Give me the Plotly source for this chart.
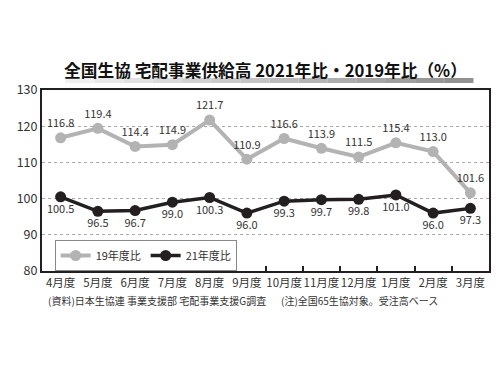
import plotly.graph_objects as go

months = ["4月度", "5月度", "6月度", "7月度", "8月度", "9月度", "10月度", "11月度", "12月度", "1月度", "2月度", "3月度"]
vs2019 = [116.8, 119.4, 114.4, 114.9, 121.7, 110.9, 116.6, 113.9, 111.5, 115.4, 113.0, 101.6]
vs2021 = [100.5, 96.5, 96.7, 99.0, 100.3, 96.0, 99.3, 99.7, 99.8, 101.0, 96.0, 97.3]
yticks = [80, 90, 100, 110, 120, 130]

FONT = "Noto Sans CJK JP, Noto Sans, sans-serif"
OFF = 8  # page body margin offset
W, H = 500 - OFF, 375 - OFF
# target plot area in page pixels: x 31..491, y 90..271
L, T = 31 - OFF, 90 - OFF
R = W - (491 - OFF)
B = H - (271 - OFF)
PW, PH = W - L - R, H - T - B


def px_x(x):
    return (x - OFF - L) / PW


def px_y(y):
    return (H - B - (y - OFF)) / PH


fig = go.Figure()
fig.add_trace(go.Scatter(
    x=months, y=vs2019, name="19年度比", mode="lines+markers+text",
    line=dict(color="#b3b3b3", width=4), marker=dict(color="#b3b3b3", size=11),
    text=[f"{v:.1f}" for v in vs2019], textposition="top center",
    textfont=dict(size=11, color="#333333", family=FONT),
))
fig.add_trace(go.Scatter(
    x=months, y=vs2021, name="21年度比", mode="lines+markers+text",
    line=dict(color="#231f20", width=3.5), marker=dict(color="#231f20", size=11),
    text=[f"{v:.1f}" for v in vs2021], textposition="bottom center",
    textfont=dict(size=11, color="#333333", family=FONT),
))

# title underline shadow (gradient-like)
x0, x1 = 55, 475
n = 14
for i in range(n):
    a = x0 + (x1 - x0) * i / n
    b = x0 + (x1 - x0) * (i + 1) / n
    g = int(240 - 95 * i / (n - 1))
    fig.add_shape(type="rect", xref="paper", yref="paper",
                  x0=px_x(a), x1=px_x(b), y0=px_y(83), y1=px_y(78),
                  fillcolor=f"rgb({g},{g},{g})", line=dict(width=0), layer="below")

fig.update_layout(
    width=W, height=H, margin=dict(l=L, r=R, t=T, b=B),
    paper_bgcolor="white", plot_bgcolor="white",
    font=dict(family=FONT, color="#333333", size=12),
    showlegend=True,
    legend=dict(orientation="h", x=px_x(44), y=px_y(240),
                xanchor="left", yanchor="top", bgcolor="white",
                bordercolor="#888888", borderwidth=1,
                font=dict(size=11, color="#333333", family=FONT),
                itemwidth=30, entrywidth=45, entrywidthmode="pixels", tracegroupgap=0),
    title=dict(text="<b>全国生協 宅配事業供給高 2021年比・2019年比（%）</b>",
               x=0.5, xref="paper", xanchor="center", y=1 - (71 - OFF) / H, yanchor="middle",
               font=dict(size=16.7, color="#111111", family=FONT)),
    xaxis=dict(type="category", range=[-0.5, 11.5], showline=True, linecolor="#231f20",
               linewidth=2, mirror=True, ticks="inside", tickson="boundaries",
               ticklen=5, tickwidth=2, tickcolor="#231f20", showgrid=False,
               tickangle=0, tickfont=dict(size=11.5, color="#333333")),
    yaxis=dict(range=[80, 130], tickvals=yticks, showline=True, linecolor="#231f20",
               linewidth=2, mirror=True, ticks="", showgrid=True, gridcolor="#aaaaaa",
               griddash="dot", gridwidth=1, zeroline=False,
               tickfont=dict(size=12.5, color="#333333")),
)

fig.add_annotation(text="(資料)日本生協連 事業支援部 宅配事業支援G調査", xref="paper", yref="paper",
                   x=px_x(35), y=px_y(300), xanchor="left",
                   yanchor="middle", showarrow=False, font=dict(size=10, color="#333333"))
fig.add_annotation(text="(注)全国65生協対象。受注高ベース", xref="paper", yref="paper",
                   x=px_x(275), y=px_y(300), xanchor="left",
                   yanchor="middle", showarrow=False, font=dict(size=10, color="#333333"))

fig.write_html("out.html")
